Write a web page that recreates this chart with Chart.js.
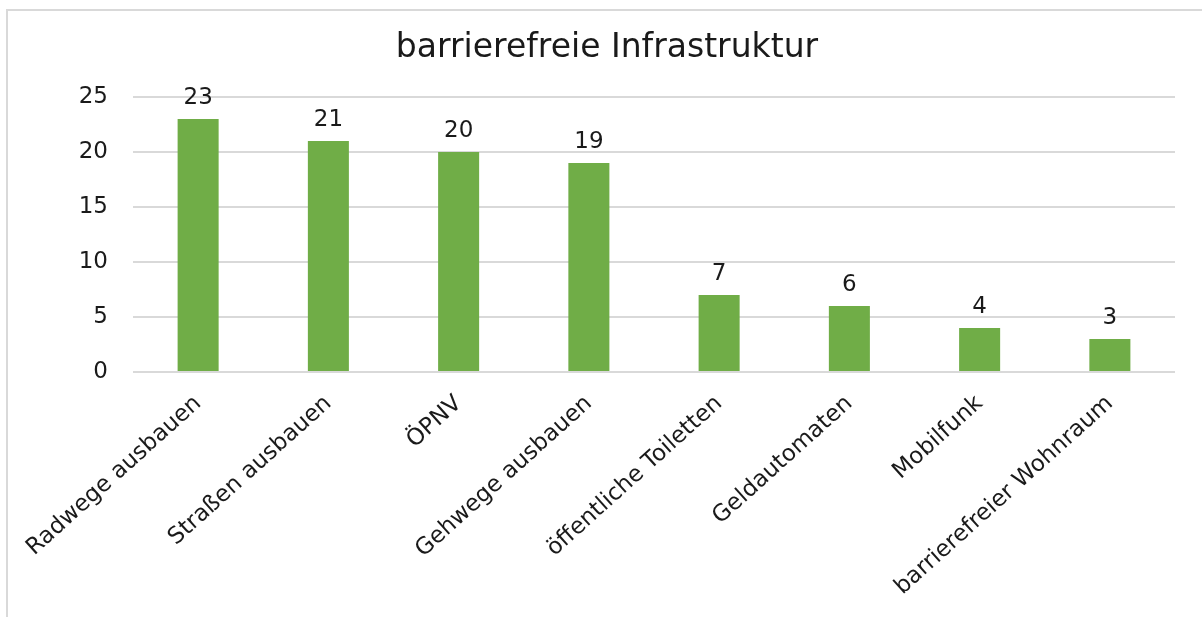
<!DOCTYPE html>
<html>
<head>
<meta charset="utf-8">
<script src="https://cdn.jsdelivr.net/npm/chart.js@4.4.0/dist/chart.umd.min.js"></script>
<style>
  body { margin: 0; background: #fff; overflow: hidden; }
  #wrap { position: relative; width: 1202px; height: 617px; }
  #frame { position: absolute; left: 6px; top: 9px; width: 1300px; height: 700px;
           border-top: 2px solid #d9d9d9; border-left: 2px solid #d9d9d9; }
  canvas { position: absolute; left: 0; top: 0; }
</style>
</head>
<body>
<div id="wrap">
  <div id="frame"></div>
  <canvas id="myChart" width="1202" height="617"></canvas>
</div>
<script>
// Data
let categories = ['Radwege ausbauen', 'Straßen ausbauen', 'ÖPNV', 'Gehwege ausbauen',
  'öffentliche Toiletten', 'Geldautomaten', 'Mobilfunk', 'barrierefreier Wohnraum'];
let values = [23, 21, 20, 19, 7, 6, 4, 3];
let yTicks = [0, 5, 10, 15, 20, 25];
let titleText = 'barrierefreie Infrastruktur';

Chart.defaults.font.family = 'DejaVu Sans, Verdana, sans-serif';
Chart.defaults.color = '#1a1a1a';

// Title + value labels above bars
const barLabels = {
  id: 'barLabels',
  afterDatasetsDraw(chart) {
    let ctx = chart.ctx;
    let meta = chart.getDatasetMeta(0);
    ctx.save();
    ctx.fillStyle = '#1a1a1a';
    ctx.textAlign = 'center';
    ctx.textBaseline = 'alphabetic';
    ctx.font = '33px DejaVu Sans, Verdana, sans-serif';
    ctx.fillText(titleText, 607, 57);
    ctx.font = '23px DejaVu Sans, Verdana, sans-serif';
    meta.data.forEach(function(bar, i) {
      ctx.fillText(values[i], bar.x, bar.y - 15);
    });
    ctx.restore();
  }
};

const ctx = document.getElementById('myChart');

new Chart(ctx, {
  type: 'bar',
  data: {
    labels: categories,
    datasets: [{
      data: values,
      backgroundColor: '#70ad47',
      borderWidth: 0,
      barPercentage: 0.315,
      categoryPercentage: 1
    }]
  },
  options: {
    responsive: false,
    animation: false,
    layout: { padding: { left: 0, right: 27, top: 97, bottom: 0 } },
    plugins: {
      legend: { display: false },
      tooltip: { enabled: false },
      title: { display: false }
    },
    scales: {
      x: {
        grid: { display: false },
        border: { display: false },
        ticks: {
          font: { size: 23 },
          minRotation: 42,
          maxRotation: 42,
          padding: 10
        },
        afterFit: function(scale) { scale.height = 245; }
      },
      y: {
        min: 0,
        max: 25,
        afterBuildTicks: function(scale) {
          scale.ticks = yTicks.map(function(v) { return { value: v }; });
        },
        grid: { color: '#d9d9d9', lineWidth: 2, drawTicks: false },
        border: { display: false },
        ticks: { font: { size: 23 }, padding: 25 },
        afterFit: function(scale) { scale.width = 133; }
      }
    }
  },
  plugins: [barLabels]
});
</script>
</body>
</html>
